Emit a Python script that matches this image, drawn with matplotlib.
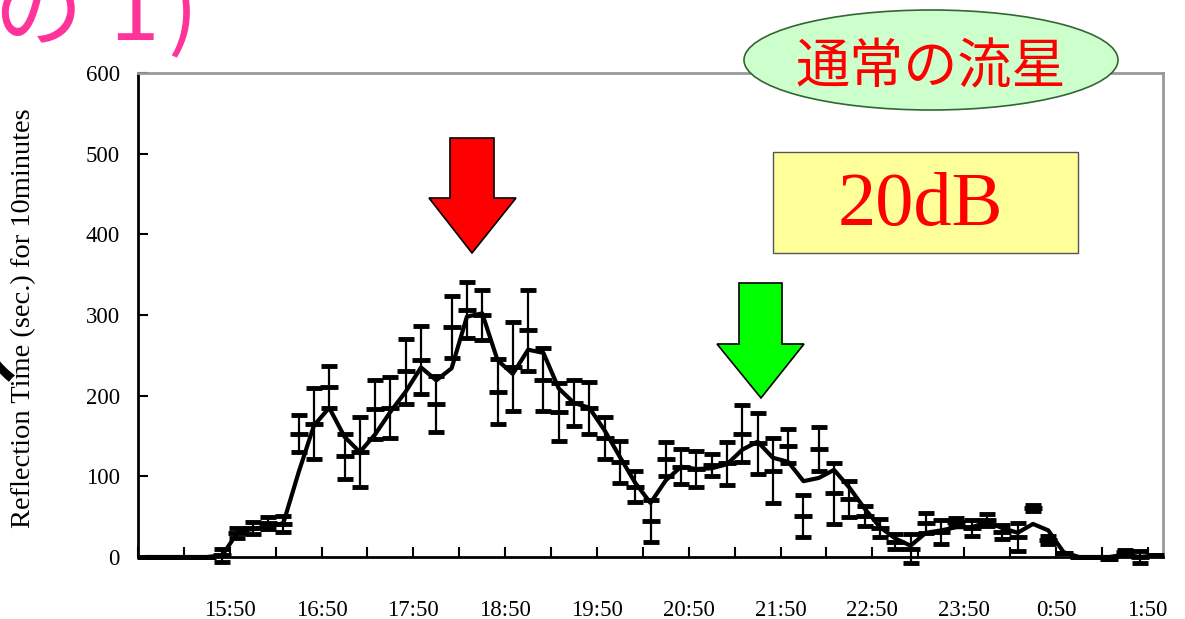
import matplotlib
matplotlib.use("Agg")
import matplotlib.pyplot as plt
from matplotlib.patches import Polygon, Ellipse, Rectangle
import numpy as np

# ---- data (10-minute bins starting 14:50) ----
line_vals = [0, 0, 0, 0, 0, 2, 30, 35, 37, 42,
             105, 163, 185, 149, 130, 152, 180, 205, 235, 219,
             234, 298, 302, 244, 227, 257, 253, 209, 191, 185,
             157, 124, 92, 67, 95, 112, 109, 110, 115, 133,
             143, 123, 118, 94, 98, 108, 86, 60, 37, 23,
             14, 30, 33, 37, 37, 43, 36, 30, 41, 33,
             6, 0, 0, 0, 3, 0, 2]
point_vals = [0, 0, 0, 0, 0, 2, 30, 36, 42, 41,
              153, 165, 211, 125, 130, 183, 185, 230, 244, 190,
              285, 306, 300, 205, 236, 281, 220, 180, 191, 185,
              148, 118, 87, 45, 121, 112, 109, 114, 116, 153,
              141, 107, 138, 51, 134, 79, 72, 51, 36, 19,
              10, 42, 31, 43, 36, 46, 31, 25, 61, 21,
              5, 0, 0, -2, 6, 0, 2]
point_err = [0, 0, 0, 0, 0, 8, 6, 8, 7, 10,
             23, 44, 26, 28, 43, 37, 38, 40, 42, 35,
             38, 35, 31, 40, 55, 50, 39, 36, 28, 32,
             26, 26, 19, 26, 21, 22, 22, 14, 27, 35,
             38, 40, 21, 26, 27, 38, 22, 12, 11, 9,
             18, 12, 15, 5, 10, 7, 9, 17, 4, 5,
             0, 0, 0, 0, 3, 7, 0]
tick_labels = ["15:50", "16:50", "17:50", "18:50", "19:50", "20:50",
               "21:50", "22:50", "23:50", "0:50", "1:50"]
y_ticks = [0, 100, 200, 300, 400, 500, 600]
ylabel = "Reflection Time (sec.) for 10minutes"
badge_text = "通常の流星"
box_text = "20dB"

W, H = 1185, 619
fig = plt.figure(figsize=(W / 100, H / 100), dpi=100)
fig.patch.set_facecolor("white")

def fx(x):
    return x / W

def fy(y):
    return 1 - y / H

ax = fig.add_axes([fx(138), fy(557), fx(1163) - fx(138), fy(73) - fy(557)])
n = len(line_vals)
xs = np.arange(n) + 0.5

ax.plot(xs, line_vals, color="black", lw=3.0, solid_joinstyle="round",
        solid_capstyle="round", zorder=3)
ax.errorbar(xs, point_vals, yerr=point_err, fmt="_", color="black",
            ecolor="black", elinewidth=1.6, capsize=5.5, capthick=1.6,
            markersize=13, markeredgewidth=3.5, zorder=4, clip_on=False)

ax.set_xlim(0, n)
ax.set_ylim(0, 600)
xt = list(range(0, n, 3))
ax.set_xticks(xt)
ax.set_xticklabels([tick_labels[k // 6 - 1] if (k % 6 == 0 and k > 0) else "" for k in xt])
ax.set_yticks(y_ticks)
ax.set_yticklabels([str(v) for v in y_ticks])

for lab in ax.get_xticklabels() + ax.get_yticklabels():
    lab.set_fontfamily("Liberation Serif")
    lab.set_fontsize(16.5)
ax.tick_params(axis="x", direction="in", length=7, width=1.5, pad=31)
ax.tick_params(axis="y", direction="in", length=7, width=1.5, pad=13)

for s in ["left", "bottom"]:
    ax.spines[s].set_color("black")
    ax.spines[s].set_linewidth(2)
for s in ["top", "right"]:
    ax.spines[s].set_color("#999999")
    ax.spines[s].set_linewidth(2)

fig.text(fx(24), fy(318), ylabel, rotation=90, ha="center", va="center",
         fontsize=20.5, family="Liberation Serif")

# red arrow
red_pts = [(450, 138), (494, 138), (494, 198), (516, 198), (472, 253),
           (429, 198), (450, 198)]
fig.patches.append(Polygon([(fx(a), fy(b)) for a, b in red_pts], closed=True,
                           transform=fig.transFigure, facecolor="#FF0000",
                           edgecolor="black", lw=1.2, zorder=5))
# green arrow
green_pts = [(739, 283), (782, 283), (782, 344), (804, 344), (761, 398),
             (717, 344), (739, 344)]
fig.patches.append(Polygon([(fx(a), fy(b)) for a, b in green_pts], closed=True,
                           transform=fig.transFigure, facecolor="#00FF00",
                           edgecolor="black", lw=1.2, zorder=5))

# badge ellipse
fig.patches.append(Ellipse((fx(931), fy(60)), fx(374), 100 / H,
                           transform=fig.transFigure, facecolor="#CCFFCC",
                           edgecolor="#336633", lw=1.2, zorder=5))
fig.text(fx(931), fy(68), badge_text, ha="center", va="center", fontsize=39,
         color="#FF0000", family=["Noto Sans CJK JP", "DejaVu Sans"], zorder=6)

# yellow box
fig.patches.append(Rectangle((fx(773), fy(253)), fx(1078) - fx(773), (253 - 152) / H,
                             transform=fig.transFigure, facecolor="#FFFF99",
                             edgecolor="#555555", lw=1.0, zorder=5))
fig.text(fx(920), fy(207), box_text, ha="center", va="center", fontsize=55,
         color="#FF0000", family="Liberation Serif", zorder=6)

# cropped slide text fragments (title line cut at the top edge)
cjk = ["Noto Sans CJK JP", "DejaVu Sans"]
fig.text(fx(82), fy(40), "の", ha="right", va="baseline", fontsize=64,
         color="#FF3399", family=cjk)
fig.text(fx(134), fy(40), "1", ha="center", va="baseline", fontsize=64,
         color="#FF3399", family=cjk)
fig.text(fx(182), fy(40), ")", ha="center", va="baseline", fontsize=64,
         color="#FF3399", family=cjk)
fig.text(fx(17), fy(392), "分", ha="right", va="center", fontsize=70,
         color="black", family=cjk)

fig.savefig("out.png", dpi=100)
